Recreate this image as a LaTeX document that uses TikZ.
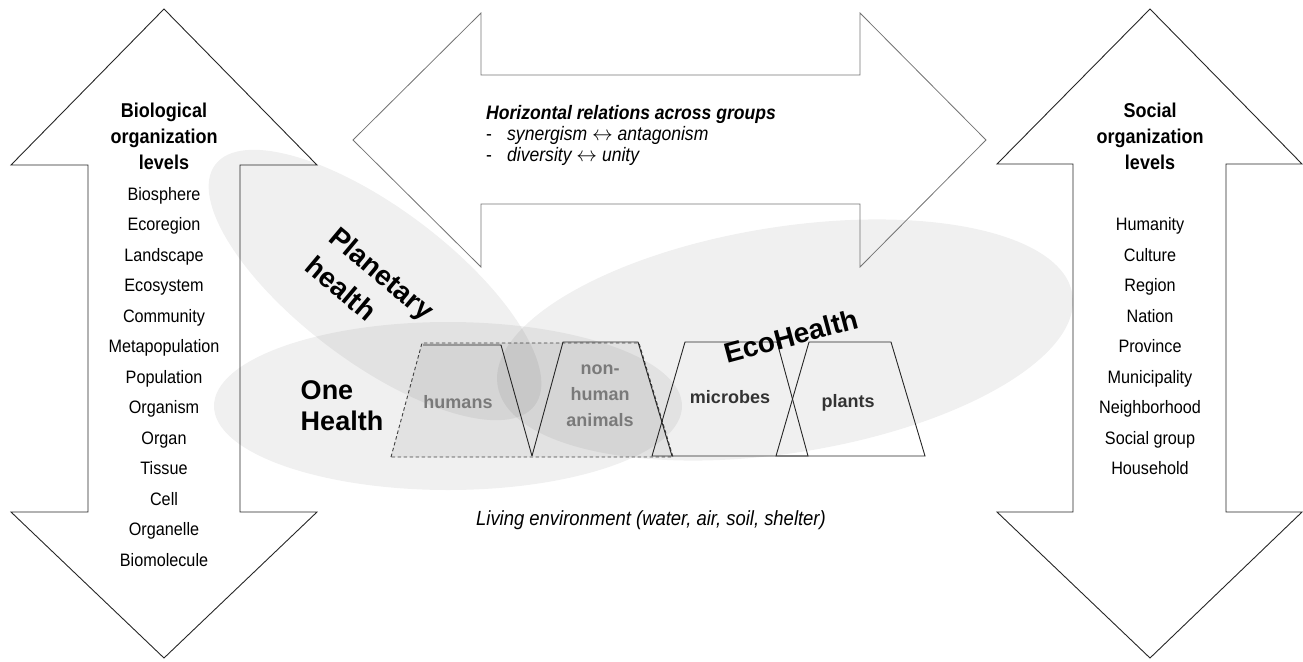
\documentclass[tikz,border=0pt]{standalone}
\usepackage{fontspec}
\setmainfont{Liberation Sans}
\newfontfamily\nar[FakeStretch=0.9]{Liberation Sans}
\begin{document}
\begin{tikzpicture}[x=1pt,y=-1pt,
  bigarrow/.style={draw=black!85, line width=0.9pt, line join=miter},
  harrow/.style={draw=black!55, line width=0.8pt},
  blob/.style={fill=black, fill opacity=0.06},
  trap/.style={draw=black!85, line width=0.9pt},
  grp/.style={draw=black!75, dash pattern=on 3.5pt off 2.5pt, line width=0.9pt, fill=black, fill opacity=0.06},
  lvl/.style={font=\nar\fontsize{18}{22}\selectfont, anchor=base, inner sep=0pt},
  ttl/.style={font=\nar\bfseries\fontsize{20}{24}\selectfont, anchor=base, inner sep=0pt},
  grouplbl/.style={font=\bfseries\fontsize{18}{22}\selectfont, anchor=base, inner sep=0pt},
  hlbl/.style={font=\bfseries\fontsize{27}{31}\selectfont, align=left, inner sep=0pt},
  htxt/.style={font=\nar\itshape\fontsize{19.5}{23}\selectfont, anchor=base west, inner sep=0pt}]
\useasboundingbox (0,0) rectangle (1303,661);
% shaded ellipses
\fill[blob, shift={(375,285)}, rotate=-37] (0,0) ellipse [x radius=200, y radius=77];
\fill[blob] (448,406) ellipse [x radius=234, y radius=84];
\fill[blob, shift={(785,340)}, rotate=9] (0,0) ellipse [x radius=291, y radius=113];
% vertical arrows
\draw[bigarrow] (164,9) -- (317,165) -- (240,165) -- (240,512) -- (317,512) -- (164,658)
  -- (11,512) -- (88,512) -- (88,165) -- (11,165) -- cycle;
\draw[bigarrow] (1150,9) -- (1302,164) -- (1226,164) -- (1226,512) -- (1302,512) -- (1150,658)
  -- (997,512) -- (1073,512) -- (1073,164) -- (997,164) -- cycle;
% horizontal arrow
\draw[harrow] (353,140) -- (481,13) -- (481,75) -- (860,75) -- (860,13) -- (986,140)
  -- (860,267) -- (860,204) -- (481,204) -- (481,267) -- cycle;
% group outline (humans + non-human animals)
\draw[grp] (391,457) -- (422,343) -- (639,343) -- (673,457) -- cycle;
\draw[trap] (423,345) -- (501,345) -- (532,456);
\draw[trap] (532,456) -- (563,342) -- (638,342) -- (672,456);
\draw[trap] (652,456) -- (685,342) -- (777,342) -- (808,456) -- cycle;
\draw[trap] (776,456) -- (809,342) -- (891,342) -- (925,456) -- cycle;
% group labels
\node[grouplbl, text=black!52] (hum) at (458,408) {humans};
\node[grouplbl, text=black!52] (nh1) at (600,374) {non-};
\node[grouplbl, text=black!52] (nh2) at (600,400) {human};
\node[grouplbl, text=black!52] (nh3) at (600,426) {animals};
\node[grouplbl, text=black!80] (mic) at (730,403) {microbes};
\node[grouplbl, text=black!80] (pla) at (848,407) {plants};
% approach labels
\node[hlbl, font=\bfseries\fontsize{28}{33}\selectfont, rotate=-40] (ph) at (370,288) {Planetary\\[5pt]health};
\node[hlbl] (oh) at (342,406) {One\\Health};
\node[hlbl, font=\bfseries\fontsize{28}{33}\selectfont, rotate=15] (eh) at (791,336) {EcoHealth};
% left arrow text
\node[ttl] (bt1) at (164,117) {Biological};
\node[ttl] (bt2) at (164,143) {organization};
\node[ttl] (bt3) at (164,169) {levels};
\foreach \t [count=\i from 0] in {Biosphere,Ecoregion,Landscape,Ecosystem,Community,Metapopulation,Population,Organism,Organ,Tissue,Cell,Organelle,Biomolecule}
  \node[lvl] (bl\i) at (164,{200+30.5*\i}) {\t};
% right arrow text
\node[ttl] (st1) at (1150,117) {Social};
\node[ttl] (st2) at (1150,143) {organization};
\node[ttl] (st3) at (1150,169) {levels};
\foreach \t [count=\i from 0] in {Humanity,Culture,Region,Nation,Province,Municipality,Neighborhood,Social group,Household}
  \node[lvl] (sl\i) at (1150,{230.5+30.5*\i}) {\t};
% horizontal relations
\node[htxt, font=\nar\bfseries\itshape\fontsize{19.5}{23}\selectfont] (hr) at (486,119) {Horizontal relations across groups};
\node[htxt, font=\nar\fontsize{19.5}{23}\selectfont] (d1) at (486,140) {-};
\node[htxt] (r1) at (507,140) {synergism $\leftrightarrow$ antagonism};
\node[htxt, font=\nar\fontsize{19.5}{23}\selectfont] (d2) at (486,161) {-};
\node[htxt] (r2) at (507,161) {diversity $\leftrightarrow$ unity};
% living environment
\node[font=\nar\itshape\fontsize{20.5}{24}\selectfont, anchor=base, inner sep=0pt] (env) at (651,525) {Living environment (water, air, soil, shelter)};
\end{tikzpicture}
\end{document}
